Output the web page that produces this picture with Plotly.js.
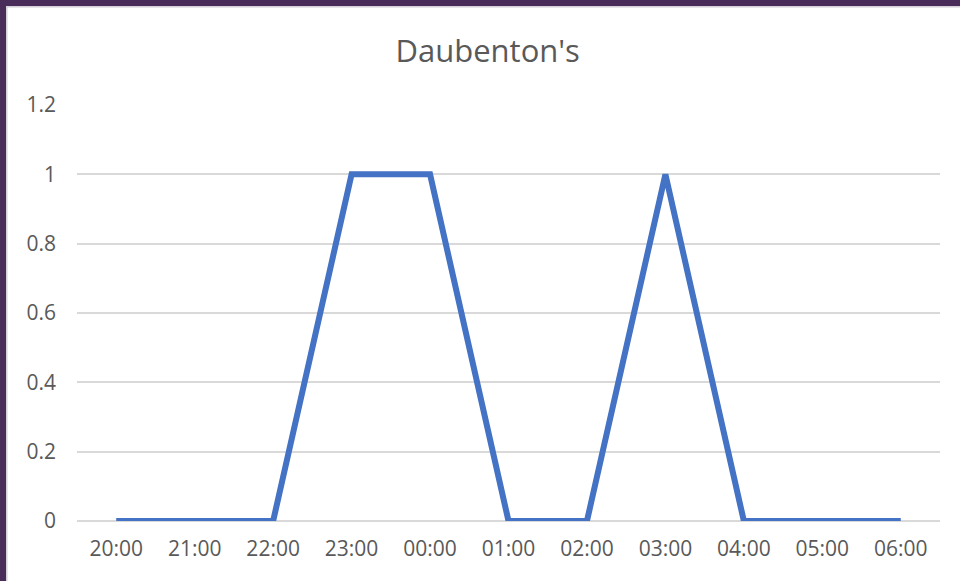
<!DOCTYPE html>
<html>
<head>
<meta charset="utf-8">
<script src="https://cdn.plot.ly/plotly-3.0.1.min.js"></script>
<style>html,body{margin:0;padding:0;background:#fff;}#chart{width:960px;height:581px;}</style>
</head>
<body>
<div id="chart"></div>
<script>
const categories = ["20:00","21:00","22:00","23:00","00:00","01:00","02:00","03:00","04:00","05:00","06:00"];
const values = [0,0,0,1,1,0,0,1,0,0,0];
const yTicks = [0,0.2,0.4,0.6,0.8,1,1.2];
const yTickLabels = ["0","0.2","0.4","0.6","0.8","1","1.2"];

const trace = {
  x: categories,
  y: values,
  type: 'scatter',
  mode: 'lines',
  line: {color: '#4472C4', width: 6, shape: 'linear'},
  hoverinfo: 'skip'
};

const layout = {
  width: 960, height: 581,
  margin: {l: 77, r: 20, t: 105, b: 60},
  paper_bgcolor: '#ffffff',
  plot_bgcolor: '#ffffff',
  showlegend: false,
  font: {family: 'Open Sans, sans-serif', color: '#595959', size: 21},
  title: {text: "Daubenton's", font: {size: 31, color: '#595959', family: 'Open Sans, sans-serif'}, x: 0.508, xanchor: 'center', y: 0.912, yanchor: 'middle'},
  xaxis: {
    type: 'category',
    range: [-0.5, 10.5],
    showgrid: false, zeroline: false, showline: false,
    ticks: '', ticklen: 0,
    tickfont: {size: 21, color: '#595959'},
    ticklabelstandoff: 13,
    fixedrange: true
  },
  yaxis: {
    range: [0, 1.2],
    tickvals: yTicks,
    ticktext: yTickLabels,
    showgrid: true, gridcolor: '#d9d9d9', gridwidth: 2,
    zeroline: true, zerolinecolor: '#d9d9d9', zerolinewidth: 2,
    showline: false,
    ticks: '', ticklen: 0,
    tickfont: {size: 21, color: '#595959'},
    ticklabelstandoff: 20,
    fixedrange: true
  }
};

Plotly.newPlot('chart', [trace], layout, {displayModeBar: false, staticPlot: true}).then(() => {
  const svg = document.querySelector('#chart .main-svg:last-of-type');
  const ns = 'http://www.w3.org/2000/svg';
  const addRect = (x, y, w, h, fill) => {
    const r = document.createElementNS(ns, 'rect');
    r.setAttribute('x', x); r.setAttribute('y', y);
    r.setAttribute('width', w); r.setAttribute('height', h);
    r.setAttribute('fill', fill);
    svg.appendChild(r);
  };
  addRect(0, 6, 960, 1.5, '#d4d0d8');
  addRect(6, 0, 1.5, 581, '#d4d0d8');
  addRect(0, 0, 960, 6, '#4a2c5a');
  addRect(0, 0, 6, 581, '#4a2c5a');
});
</script>
</body>
</html>
